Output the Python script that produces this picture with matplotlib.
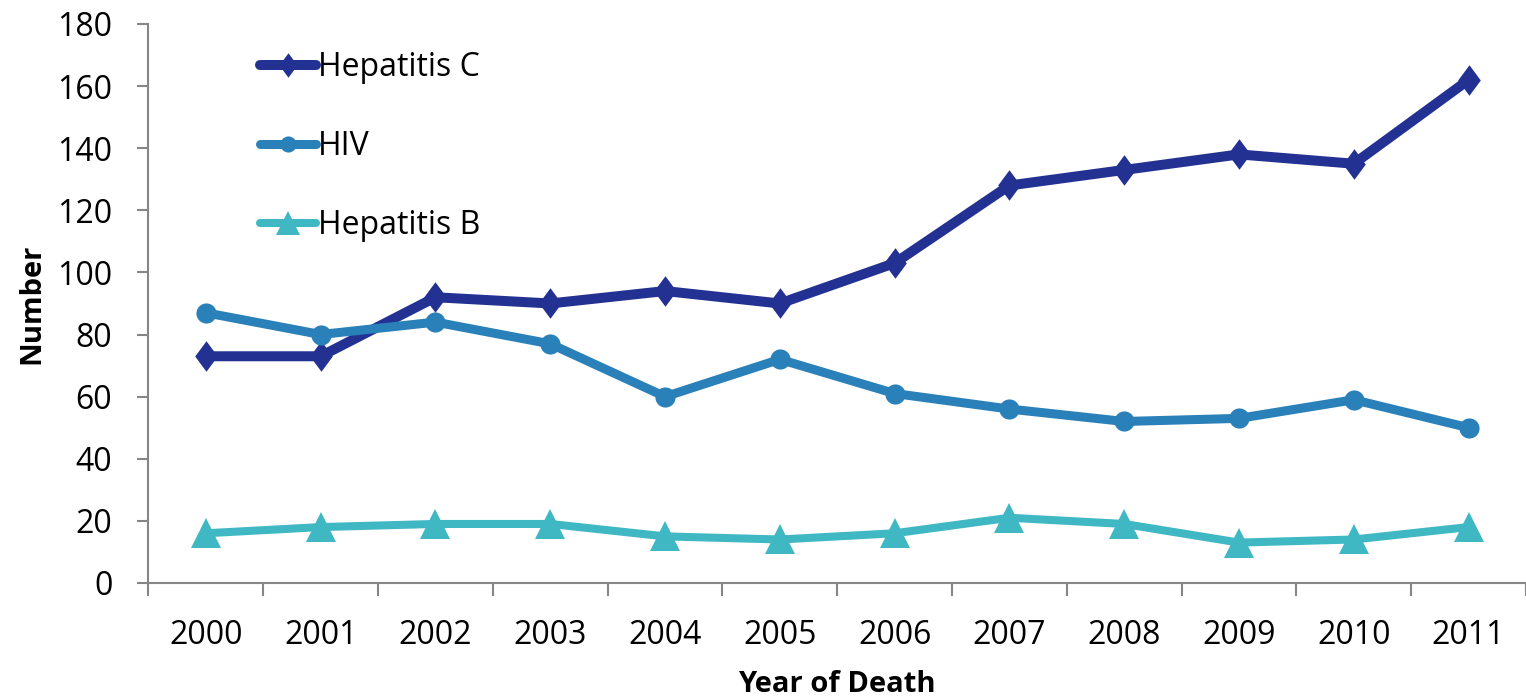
"""
Deaths with hepatitis C, HIV and hepatitis B listed, by year of death.
"""
import numpy as np
import matplotlib
matplotlib.use("Agg")
import matplotlib.pyplot as plt
from matplotlib.ticker import FixedLocator, NullFormatter

plt.rcParams["font.family"] = ["Open Sans", "DejaVu Sans"]

years = ["2000", "2001", "2002", "2003", "2004", "2005",
         "2006", "2007", "2008", "2009", "2010", "2011"]
hep_c = [73, 73, 92, 90, 94, 90, 103, 128, 133, 138, 135, 162]
hiv = [87, 80, 84, 77, 60, 72, 61, 56, 52, 53, 59, 50]
hep_b = [16, 18, 19, 19, 15, 14, 16, 21, 19, 13, 14, 18]

# tall diamond like the spreadsheet marker
tall_diamond = [(0, 1), (0.74, 0), (0, -1), (-0.74, 0), (0, 1)]

series = [
    ("Hepatitis C", hep_c, "#233292", tall_diamond, 22, 7.2),
    ("HIV", hiv, "#2a80b9", "o", 14.5, 6.5),
    ("Hepatitis B", hep_b, "#3fb8c4", "^", 21, 5.8),
]

fig = plt.figure(figsize=(15.26, 6.99), dpi=100)
ax = fig.add_axes([0.0973, 0.166, 0.9027, 0.7997])

x = np.arange(len(years))
for name, vals, color, mk, ms, lw in series:
    ax.plot(x, vals, color=color, lw=lw, marker=mk, markersize=ms,
            markeredgewidth=0, solid_capstyle="round", label=name)

ax.set_xlim(-0.5, len(years) - 0.5)
ax.set_ylim(0, 180)
ax.set_yticks(np.arange(0, 181, 20))

# category labels centred, tick marks on the boundaries
ax.set_xticks(x)
ax.set_xticklabels(years)
ax.xaxis.set_minor_locator(FixedLocator(np.arange(-0.5, len(years), 1.0)))
ax.xaxis.set_minor_formatter(NullFormatter())
ax.tick_params(axis="x", which="major", length=0, pad=26, labelsize=23)
ax.tick_params(axis="x", which="minor", length=9, width=1.5,
               color="#868686", direction="out")
ax.tick_params(axis="y", length=8, width=1.5, color="#868686",
               pad=18, labelsize=23)

for side in ("top", "right"):
    ax.spines[side].set_visible(False)
for side in ("left", "bottom"):
    ax.spines[side].set_color("#868686")
    ax.spines[side].set_linewidth(1.5)

ax.set_xlabel("Year of Death", fontsize=21, fontweight="bold", labelpad=13)
ax.set_ylabel("Number", fontsize=21, fontweight="bold", labelpad=8)

leg = ax.legend(loc="upper left", bbox_to_anchor=(0.072, 0.975), frameon=False,
                fontsize=23, handlelength=1.75, handletextpad=0.05,
                labelspacing=1.45, borderaxespad=0, markerscale=0.8)

fig.savefig("out.png", dpi=100)
